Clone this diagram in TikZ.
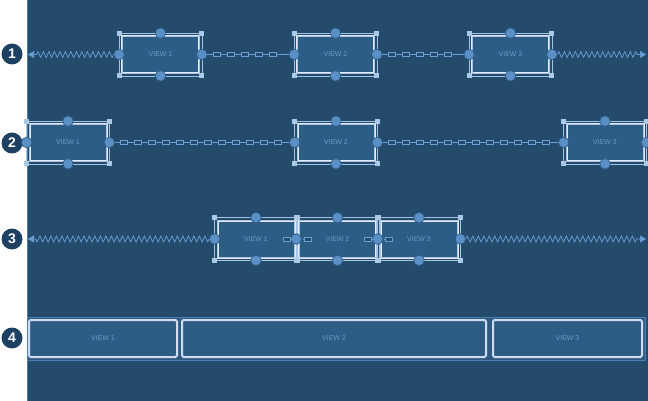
\documentclass[tikz,border=0pt]{standalone}
\usepackage{fontspec}
\setsansfont{Liberation Sans}
\usetikzlibrary{arrows.meta,decorations.pathmorphing,decorations.markings}

\definecolor{canvas}{HTML}{244B6C}
\definecolor{boxfill}{HTML}{2D5C84}
\definecolor{boxline}{HTML}{E6EAFA}
\definecolor{selline}{HTML}{A8C4E4}
\definecolor{handlefill}{HTML}{5A90C6}
\definecolor{handleline}{HTML}{2E5E8C}
\definecolor{gripfill}{HTML}{A9C9E6}
\definecolor{wire}{HTML}{6A9FD6}
\definecolor{labeltext}{HTML}{6A9ACA}
\definecolor{stepfill}{HTML}{1E4163}
\definecolor{bandline}{HTML}{4A7FB4}

% one selected view: name, x, y, width, label
\newcommand{\selview}[5]{%
  \node[viewbox, minimum width=#4] (#1) at (#2,#3) {#5};
  \draw[selframe] ([shift={(-2.5pt,2.5pt)}]#1.north west) rectangle ([shift={(2.5pt,-2.5pt)}]#1.south east);
  \foreach \a/\dx/\dy in {north west/-2.5/2.5, north east/2.5/2.5, south west/-2.5/-2.5, south east/2.5/-2.5}
    \node[grip] at ([shift={(\dx pt,\dy pt)}]#1.\a) {};
  \foreach \s/\a/\dx/\dy in {w/west/-2.5/0, e/east/2.5/0, n/north/0/2.5, s/south/0/-2.5}
    \node[handle] (#1-\s) at ([shift={(\dx pt,\dy pt)}]#1.\a) {};
}

\begin{document}
\begin{tikzpicture}[x=1pt, y=-1pt,
    viewbox/.style={draw=boxline, line width=0.7pt, double=selline, double distance=0.6pt,
                    fill=boxfill, minimum height=37pt, inner sep=0pt,
                    font=\sffamily\fontsize{7}{8}\selectfont, text=labeltext},
    tilebox/.style={viewbox, rounded corners=1.5pt, minimum height=37pt},
    selframe/.style={draw=selline, line width=0.5pt},
    grip/.style={rectangle, fill=gripfill, minimum size=5pt, inner sep=0pt},
    handle/.style={circle, fill=handlefill, draw=handleline, line width=0.7pt,
                   minimum size=10.5pt, inner sep=0pt},
    link/.style={rectangle, draw=wire, fill=canvas, line width=0.8pt,
                 minimum width=7pt, minimum height=4pt, inner sep=0pt},
    chain/.style={draw=wire, line width=0.8pt, postaction={decorate},
                  decoration={markings, mark=between positions 9pt and -4pt step 14pt with {\node[link] {};}}},
    spring/.style={draw=wire, line width=0.7pt, decorate,
                   decoration={zigzag, amplitude=3pt, segment length=5.5pt, post length=7pt},
                   -{Triangle[length=6pt, width=7pt]}},
    stepnum/.style={circle, fill=stepfill, text=white, minimum size=21pt, inner sep=0pt,
                    font=\sffamily\bfseries\fontsize{14}{14}\selectfont}
]
\useasboundingbox (0,0) rectangle (648,401);
\fill[canvas] (27,0) rectangle (648,401);
\draw[bandline, line width=0.6pt] (27.3,0) -- (27.3,401);

% --- step markers ---
\node[stepnum] (num1) at (12,54) {1};
\node[stepnum] (num2) at (12,143) {2};
\node[stepnum] (num3) at (12,239) {3};
\node[stepnum] (num4) at (12,338) {4};

% --- row 1: spring, chain, chain, spring ---
\selview{ra}{160.5}{54.5}{77pt}{VIEW 1}
\selview{rb}{335.5}{54.5}{77pt}{VIEW 2}
\selview{rc}{510.5}{54.5}{77pt}{VIEW 3}
\coordinate (raL) at (28,54.5);
\coordinate (raR) at (646,54.5);
\draw[spring] (ra-w) -- (raL);
\draw[chain] (ra-e) -- (rb-w);
\draw[chain] (rb-e) -- (rc-w);
\draw[spring] (rc-e) -- (raR);

% --- row 2: pinned to the edges ---
\selview{sa}{68}{142.5}{77pt}{VIEW 1}
\selview{sb}{336}{142.5}{77pt}{VIEW 2}
\selview{sc}{605}{142.5}{77pt}{VIEW 3}
\draw[chain] (sa-e) -- (sb-w);
\draw[chain] (sb-e) -- (sc-w);

% --- row 3: packed in the middle ---
\selview{ta}{256}{239}{77pt}{VIEW 1}
\selview{tb}{337.5}{239}{77pt}{VIEW 2}
\selview{tc}{419}{239}{77pt}{VIEW 3}
\coordinate (taL) at (28,239);
\coordinate (taR) at (646,239);
\draw[spring] (ta-w) -- (taL);
\draw[spring] (tc-e) -- (taR);
\foreach \j in {ta,tb}{
  \node[link] (\j-l1) at ([xshift=-10.5pt]\j-e) {};
  \node[link] (\j-l2) at ([xshift=10.5pt]\j-e) {};
  \draw[wire, line width=0.8pt] (\j-l1) -- (\j-e);
  \draw[wire, line width=0.8pt] (\j-e) -- (\j-l2);
}

% --- row 4: filled strip ---
\node[draw=bandline, fill=canvas!70!bandline, line width=0.8pt, minimum width=618pt,
      minimum height=43pt, inner sep=0pt] (band) at (336,338.5) {};
\node[tilebox, minimum width=148pt] (ua) at (103,338.5) {VIEW 1};
\node[tilebox, minimum width=304pt] (ub) at (334,338.5) {VIEW 2};
\node[tilebox, minimum width=149pt] (uc) at (567.5,338.5) {VIEW 3};

\end{tikzpicture}
\end{document}
